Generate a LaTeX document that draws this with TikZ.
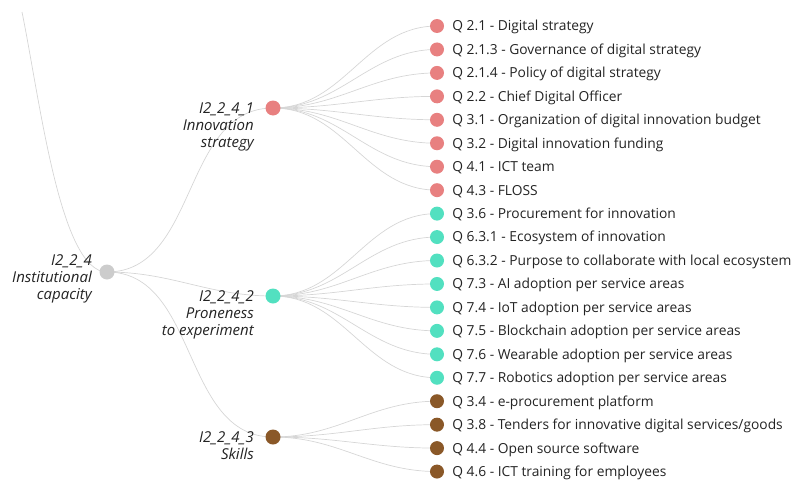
\documentclass[tikz,border=0pt]{standalone}
\usepackage{fontspec}
\setmainfont{Open Sans}
\usetikzlibrary{backgrounds}

\definecolor{innocol}{RGB}{232,128,128}
\definecolor{pronecol}{RGB}{82,224,192}
\definecolor{skillcol}{RGB}{138,88,40}
\definecolor{rootcol}{RGB}{204,204,204}
\definecolor{linkcol}{RGB}{214,214,214}
\definecolor{txtcol}{RGB}{35,35,35}

\tikzset{
	groupdot/.style={circle, fill=#1, inner sep=0pt, minimum size=15pt},
	leafdot/.style={circle, fill=#1, inner sep=0pt, minimum size=14pt},
	link/.style={draw=linkcol, line width=0.7pt},
	qtext/.style={anchor=base west, inner sep=0pt, text=txtcol, font=\fontsize{13.8}{15}\selectfont},
	grouplabel/.style={anchor=north east, inner sep=0pt, align=right, text=txtcol, font=\fontsize{15}{17}\selectfont\itshape}
}

\begin{document}
\begin{tikzpicture}[x=1pt,y=-1pt]
		\useasboundingbox (0,0) rectangle (792,479);

		% root and the three groups
		\node[groupdot=rootcol] (root) at (107,272) {};
		\node[groupdot=innocol] (n1) at (273,108) {};
		\node[groupdot=pronecol] (n2) at (273,296) {};
		\node[groupdot=skillcol] (n3) at (273,437) {};
		\coordinate (up) at (22,12);

		\node[grouplabel] (rootlab) at (92,254) {I2\_2\_4\\Institutional\\capacity};
		\node[grouplabel] (n1lab) at (254,102) {I2\_2\_4\_1\\Innovation\\strategy};
		\node[grouplabel] (n2lab) at (254,290) {I2\_2\_4\_2\\Proneness\\to experiment};
		\node[grouplabel] (n3lab) at (254,431) {I2\_2\_4\_3\\Skills};

		\begin{scope}[on background layer]
			\draw[link] (root.center) .. controls (60,272) and (40,100) .. (up);
			\foreach \grp in {n1,n2,n3}{
				\draw[link] (root.center) to[out=0,in=180] (\grp.center);
			}
		\end{scope}

		% questions
		\foreach \grp/\col/\txt [count=\i] in {
			n1/innocol/{Q 2.1 - Digital strategy},
			n1/innocol/{Q 2.1.3 - Governance of digital strategy},
			n1/innocol/{Q 2.1.4 - Policy of digital strategy},
			n1/innocol/{Q 2.2 - Chief Digital Officer},
			n1/innocol/{Q 3.1 - Organization of digital innovation budget},
			n1/innocol/{Q 3.2 - Digital innovation funding},
			n1/innocol/{Q 4.1 - ICT team},
			n1/innocol/{Q 4.3 - FLOSS},
			n2/pronecol/{Q 3.6 - Procurement for innovation},
			n2/pronecol/{Q 6.3.1 - Ecosystem of innovation},
			n2/pronecol/{Q 6.3.2 - Purpose to collaborate with local ecosystem},
			n2/pronecol/{Q 7.3 - AI adoption per service areas},
			n2/pronecol/{Q 7.4 - IoT adoption per service areas},
			n2/pronecol/{Q 7.5 - Blockchain adoption per service areas},
			n2/pronecol/{Q 7.6 - Wearable adoption per service areas},
			n2/pronecol/{Q 7.7 - Robotics adoption per service areas},
			n3/skillcol/{Q 3.4 - e-procurement platform},
			n3/skillcol/{Q 3.8 - Tenders for innovative digital services/goods},
			n3/skillcol/{Q 4.4 - Open source software},
			n3/skillcol/{Q 4.6 - ICT training for employees}}{
			\node[leafdot=\col] (q\i) at (437,{26+(\i-1)*23.45}) {};
			\node[qtext] (t\i) at ([xshift=8pt,yshift=-4.9pt]q\i.east) {\txt};
			\begin{scope}[on background layer]
				\draw[link] (\grp.center) to[out=0,in=180] (q\i.center);
			\end{scope}
		}
\end{tikzpicture}
\end{document}
